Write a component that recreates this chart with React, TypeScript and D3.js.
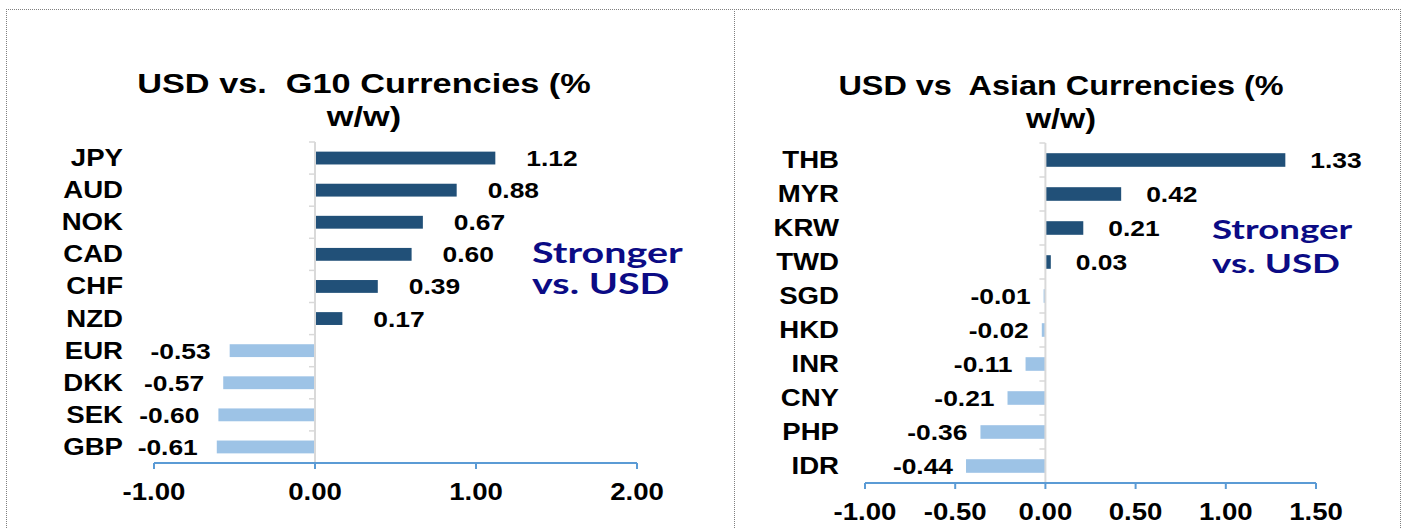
import React from "react";
import * as d3 from "d3";

const G10_CATEGORIES = ["JPY", "AUD", "NOK", "CAD", "CHF", "NZD", "EUR", "DKK", "SEK", "GBP"];
const G10_VALUES = [1.12, 0.88, 0.67, 0.6, 0.39, 0.17, -0.53, -0.57, -0.6, -0.61];
const G10_TICKS = [-1, 0, 1, 2];
const G10_TITLE = ["USD vs.  G10 Currencies (%", "w/w)"];

const ASIA_CATEGORIES = ["THB", "MYR", "KRW", "TWD", "SGD", "HKD", "INR", "CNY", "PHP", "IDR"];
const ASIA_VALUES = [1.33, 0.42, 0.21, 0.03, -0.01, -0.02, -0.11, -0.21, -0.36, -0.44];
const ASIA_TICKS = [-1, -0.5, 0, 0.5, 1, 1.5];
const ASIA_TITLE = ["USD vs  Asian Currencies (%", "w/w)"];

const NOTE_LINES = ["Stronger", "vs. USD"];

const FONT = "'Liberation Sans', Arial, sans-serif";
const NOTE_FONT = "Lato, 'Open Sans', sans-serif";
const SX = 1.2;
const DARK = "#215078";
const LIGHT = "#9dc3e6";
const AXIS_BLUE = "#5b9bd5";
const AXIS_GREY = "#d9d9d9";
const NAVY = "#0b0b85";

type Layout = {
  xRange: [number, number];
  yRange: [number, number];
  titleX: number;
  titleY: [number, number];
  titleSx: number;
  tickLabelY: number;
  catRight: number;
  posGap: number;
  negGap: number;
  noteX: number;
  noteY: [number, number];
  noteSize: number;
};

const locale = d3.formatLocale({ decimal: ".", thousands: ",", grouping: [3], currency: ["$", ""], minus: "-" });
const fmt = locale.format(".2f");

function SText(props: {
  x: number;
  y: number;
  anchor?: "start" | "middle" | "end";
  size: number;
  fill?: string;
  family?: string;
  sx?: number;
  children: React.ReactNode;
}) {
  const { x, y, anchor = "start", size, fill = "#000", family = FONT, sx = SX, children } = props;
  return (
    <text
      transform={`translate(${x},${y}) scale(${sx},1)`}
      textAnchor={anchor}
      fontFamily={family}
      fontWeight="bold"
      fontSize={size}
      fill={fill}
      style={{ whiteSpace: "pre" }}
    >
      {children}
    </text>
  );
}

function Panel(props: {
  categories: string[];
  values: number[];
  ticks: number[];
  title: string[];
  layout: Layout;
}) {
  const { categories, values, ticks, title, layout } = props;
  const x = d3
    .scaleLinear()
    .domain([ticks[0], ticks[ticks.length - 1]])
    .range(layout.xRange);
  const y = d3
    .scaleBand<string>()
    .domain(categories)
    .range(layout.yRange)
    .paddingInner(0.6)
    .paddingOuter(0.3);
  const step = y.step();
  const x0 = x(0);
  const yBottom = layout.yRange[1];
  const boundaries = d3.range(categories.length + 1).map((i) => layout.yRange[0] + i * step);

  return (
    <g>
      <SText x={layout.titleX} y={layout.titleY[0]} anchor="middle" size={27} sx={layout.titleSx}>
        {title[0]}
      </SText>
      <SText x={layout.titleX} y={layout.titleY[1]} anchor="middle" size={27} sx={layout.titleSx}>
        {title[1]}
      </SText>

      {/* bars */}
      {categories.map((c, i) => {
        const v = values[i];
        const bx = Math.min(x(v), x0);
        const bw = Math.abs(x(v) - x0);
        return (
          <rect
            key={c}
            x={bx}
            y={y(c)!}
            width={bw}
            height={y.bandwidth()}
            fill={v >= 0 ? DARK : LIGHT}
          />
        );
      })}

      {/* category axis */}
      <line x1={x0} x2={x0} y1={layout.yRange[0]} y2={yBottom} stroke={AXIS_GREY} strokeWidth={2} />
      {boundaries.map((b, i) => (
        <line key={i} x1={x0 - 6} x2={x0} y1={b} y2={b} stroke={AXIS_GREY} strokeWidth={1.5} />
      ))}

      {/* value axis */}
      <line x1={layout.xRange[0]} x2={layout.xRange[1]} y1={yBottom} y2={yBottom} stroke={AXIS_BLUE} strokeWidth={2} />
      {ticks.map((t) => (
        <g key={t}>
          <line x1={x(t)} x2={x(t)} y1={yBottom} y2={yBottom + 6} stroke={AXIS_BLUE} strokeWidth={2} />
          <SText x={x(t)} y={layout.tickLabelY} anchor="middle" size={23}>
            {fmt(t)}
          </SText>
        </g>
      ))}

      {/* category labels */}
      {categories.map((c) => (
        <SText key={c} x={layout.catRight} y={y(c)! + y.bandwidth() / 2 + 8} anchor="end" size={23}>
          {c}
        </SText>
      ))}

      {/* value labels */}
      {categories.map((c, i) => {
        const v = values[i];
        const pos = v >= 0;
        return (
          <SText
            key={c}
            x={pos ? x(v) + layout.posGap : x(v) - layout.negGap}
            y={y(c)! + y.bandwidth() / 2 + 8}
            anchor={pos ? "start" : "end"}
            size={22}
          >
            {fmt(v)}
          </SText>
        );
      })}

      {/* annotation */}
      <SText x={layout.noteX} y={layout.noteY[0]} size={layout.noteSize} fill={NAVY} family={NOTE_FONT} sx={1.36}>
        {NOTE_LINES[0]}
      </SText>
      <SText x={layout.noteX} y={layout.noteY[1]} size={layout.noteSize} fill={NAVY} family={NOTE_FONT} sx={1.36}>
        {NOTE_LINES[1]}
      </SText>
    </g>
  );
}

const LEFT: Layout = {
  xRange: [154, 637],
  yRange: [142, 463],
  titleX: 364,
  titleY: [93, 126],
  titleSx: 1.27,
  tickLabelY: 500,
  catRight: 123,
  posGap: 31,
  negGap: 19,
  noteX: 532,
  noteY: [263, 294],
  noteSize: 29,
};

const RIGHT: Layout = {
  xRange: [865, 1316],
  yRange: [143, 483],
  titleX: 1061,
  titleY: [95, 128],
  titleSx: 1.2,
  tickLabelY: 520,
  catRight: 839,
  posGap: 25,
  negGap: 13,
  noteX: 1212,
  noteY: [239, 273],
  noteSize: 27,
};

export default function App() {
  return (
    <svg
      width={1407}
      height={529}
      style={{ position: "absolute", left: 0, top: 0, background: "#fff", display: "block" }}
    >
      <rect x={0} y={0} width={1407} height={529} fill="#fff" />
      <g stroke="#7f7f7f" strokeWidth={1} strokeDasharray="1,1" fill="none">
        <line x1={6} x2={1400} y1={9.5} y2={9.5} />
        <line x1={6.5} x2={6.5} y1={9} y2={529} />
        <line x1={734.5} x2={734.5} y1={9} y2={529} />
        <line x1={1400.5} x2={1400.5} y1={9} y2={529} />
      </g>
      <Panel categories={G10_CATEGORIES} values={G10_VALUES} ticks={G10_TICKS} title={G10_TITLE} layout={LEFT} />
      <Panel categories={ASIA_CATEGORIES} values={ASIA_VALUES} ticks={ASIA_TICKS} title={ASIA_TITLE} layout={RIGHT} />
    </svg>
  );
}
